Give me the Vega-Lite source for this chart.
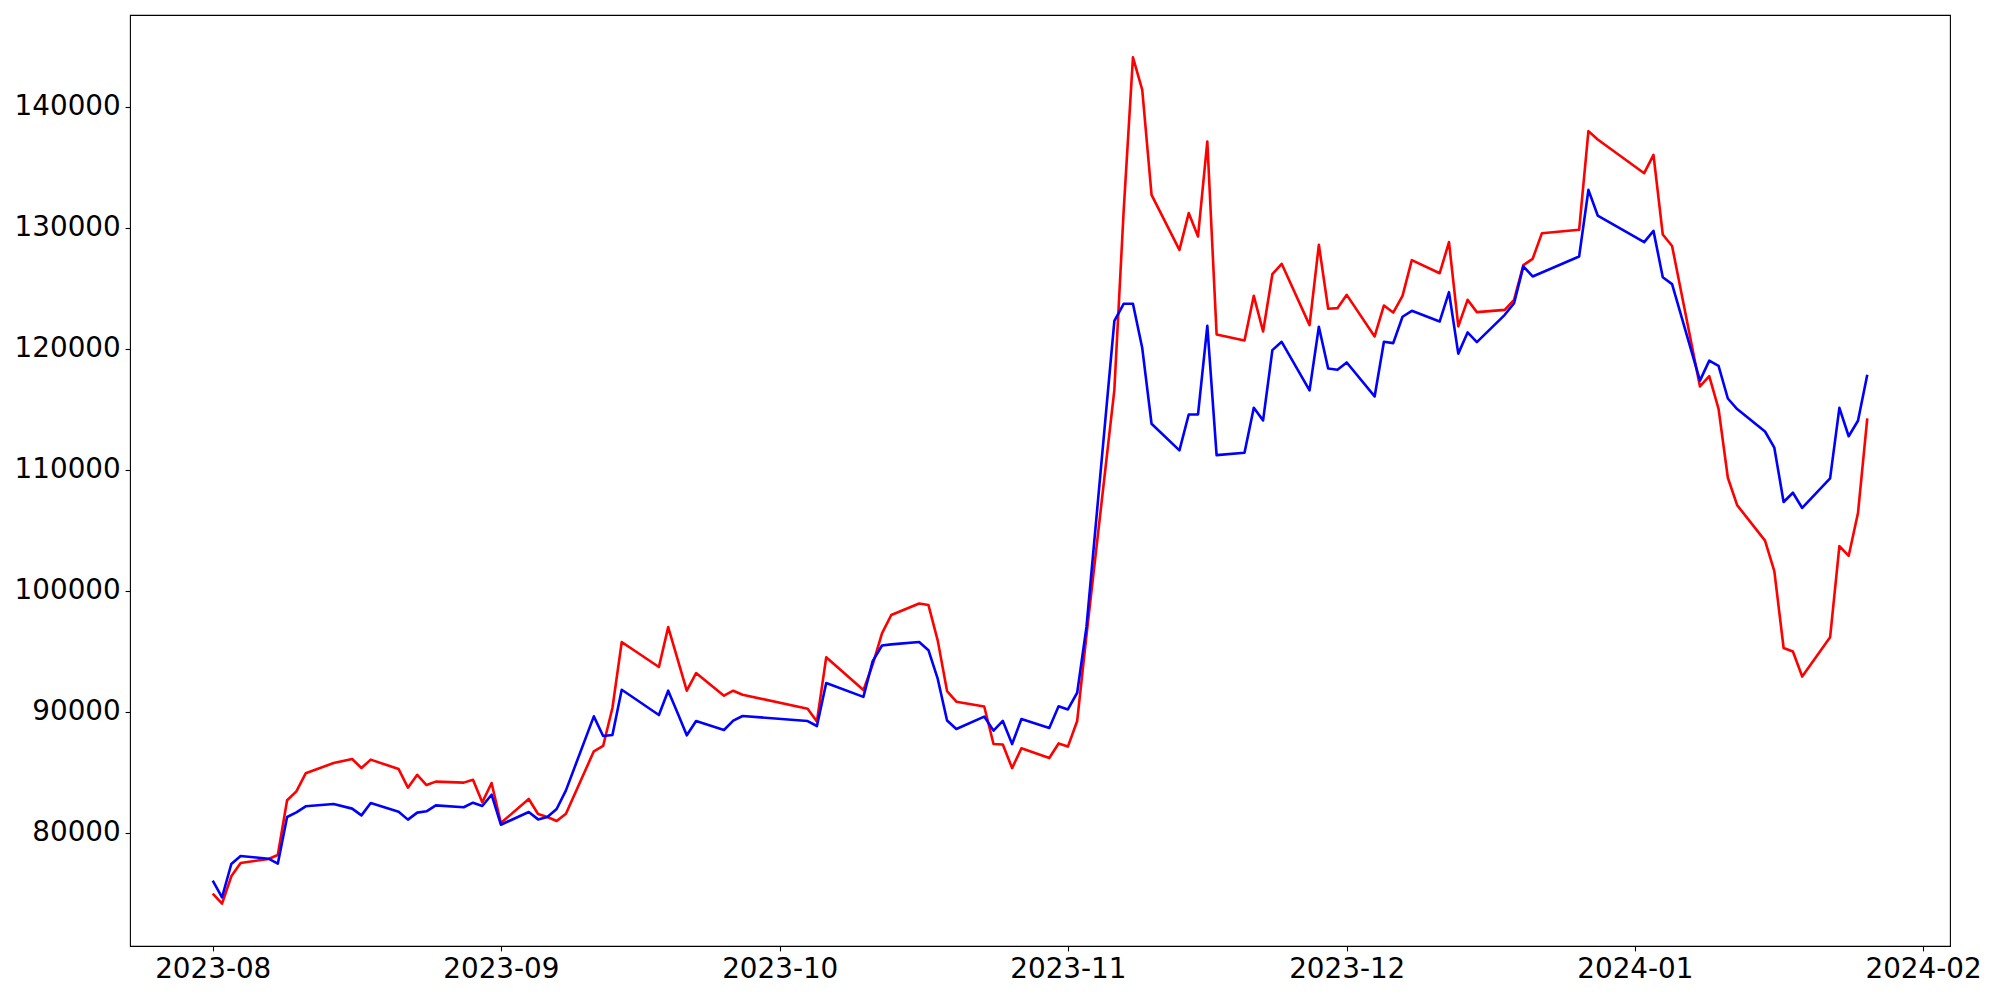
{
  "$schema": "https://vega.github.io/schema/vega-lite/v6.json",
  "width": 1820,
  "height": 931,
  "autosize": "none",
  "padding": {"left": 130, "top": 15, "right": 50, "bottom": 54},
  "background": "white",
  "config": {
    "view": {"stroke": "black", "strokeWidth": 1.1},
    "axis": {
      "grid": false,
      "domain": false,
      "tickColor": "black",
      "tickSize": 4.9,
      "tickWidth": 1.1,
      "labelFont": "DejaVu Sans",
      "labelFontSize": 27.8,
      "labelColor": "black",
      "labelPadding": 4.9
    }
  },
  "data": {
    "values": [
      {"date": "2023-08-01", "red": 74950, "blue": 76020},
      {"date": "2023-08-02", "red": 74120, "blue": 74650},
      {"date": "2023-08-03", "red": 76380, "blue": 77400},
      {"date": "2023-08-04", "red": 77490, "blue": 78060},
      {"date": "2023-08-07", "red": 77820, "blue": 77840},
      {"date": "2023-08-08", "red": 78150, "blue": 77430},
      {"date": "2023-08-09", "red": 82670, "blue": 81290},
      {"date": "2023-08-10", "red": 83410, "blue": 81670},
      {"date": "2023-08-11", "red": 84900, "blue": 82170},
      {"date": "2023-08-14", "red": 85750, "blue": 82360},
      {"date": "2023-08-16", "red": 86080, "blue": 81980},
      {"date": "2023-08-17", "red": 85340, "blue": 81420},
      {"date": "2023-08-18", "red": 86030, "blue": 82440},
      {"date": "2023-08-21", "red": 85250, "blue": 81730},
      {"date": "2023-08-22", "red": 83710, "blue": 81070},
      {"date": "2023-08-23", "red": 84780, "blue": 81650},
      {"date": "2023-08-24", "red": 83930, "blue": 81760},
      {"date": "2023-08-25", "red": 84210, "blue": 82250},
      {"date": "2023-08-28", "red": 84130, "blue": 82090},
      {"date": "2023-08-29", "red": 84370, "blue": 82470},
      {"date": "2023-08-30", "red": 82500, "blue": 82200},
      {"date": "2023-08-31", "red": 84100, "blue": 83130},
      {"date": "2023-09-01", "red": 80790, "blue": 80650},
      {"date": "2023-09-04", "red": 82780, "blue": 81700},
      {"date": "2023-09-05", "red": 81540, "blue": 81090},
      {"date": "2023-09-06", "red": 81290, "blue": 81290},
      {"date": "2023-09-07", "red": 80960, "blue": 81950},
      {"date": "2023-09-08", "red": 81560, "blue": 83490},
      {"date": "2023-09-11", "red": 86720, "blue": 89610},
      {"date": "2023-09-12", "red": 87160, "blue": 87980},
      {"date": "2023-09-13", "red": 90300, "blue": 88070},
      {"date": "2023-09-14", "red": 95750, "blue": 91810},
      {"date": "2023-09-15", "red": 95240, "blue": 91290},
      {"date": "2023-09-18", "red": 93690, "blue": 89720},
      {"date": "2023-09-19", "red": 96990, "blue": 91730},
      {"date": "2023-09-20", "red": 94370, "blue": 89910},
      {"date": "2023-09-21", "red": 91730, "blue": 88040},
      {"date": "2023-09-22", "red": 93190, "blue": 89220},
      {"date": "2023-09-25", "red": 91320, "blue": 88480},
      {"date": "2023-09-26", "red": 91730, "blue": 89250},
      {"date": "2023-09-27", "red": 91400, "blue": 89640},
      {"date": "2023-10-04", "red": 90240, "blue": 89220},
      {"date": "2023-10-05", "red": 89190, "blue": 88810},
      {"date": "2023-10-06", "red": 94490, "blue": 92360},
      {"date": "2023-10-10", "red": 91780, "blue": 91220},
      {"date": "2023-10-11", "red": 93890, "blue": 94170},
      {"date": "2023-10-12", "red": 96470, "blue": 95470},
      {"date": "2023-10-13", "red": 97990, "blue": 95560},
      {"date": "2023-10-16", "red": 98940, "blue": 95760},
      {"date": "2023-10-17", "red": 98810, "blue": 95080},
      {"date": "2023-10-18", "red": 95870, "blue": 92700},
      {"date": "2023-10-19", "red": 91700, "blue": 89270},
      {"date": "2023-10-20", "red": 90820, "blue": 88560},
      {"date": "2023-10-23", "red": 90420, "blue": 89590},
      {"date": "2023-10-24", "red": 87320, "blue": 88430},
      {"date": "2023-10-25", "red": 87280, "blue": 89230},
      {"date": "2023-10-26", "red": 85330, "blue": 87320},
      {"date": "2023-10-27", "red": 86970, "blue": 89390},
      {"date": "2023-10-30", "red": 86160, "blue": 88650},
      {"date": "2023-10-31", "red": 87370, "blue": 90440},
      {"date": "2023-11-01", "red": 87110, "blue": 90180},
      {"date": "2023-11-02", "red": 89230, "blue": 91560},
      {"date": "2023-11-03", "red": 96300, "blue": 97000},
      {"date": "2023-11-06", "red": 116610, "blue": 122310},
      {"date": "2023-11-07", "red": 131400, "blue": 123720},
      {"date": "2023-11-08", "red": 144100, "blue": 123720},
      {"date": "2023-11-09", "red": 141400, "blue": 120060},
      {"date": "2023-11-10", "red": 132730, "blue": 113800},
      {"date": "2023-11-13", "red": 128180, "blue": 111600},
      {"date": "2023-11-14", "red": 131220, "blue": 114570},
      {"date": "2023-11-15", "red": 129290, "blue": 114570},
      {"date": "2023-11-16", "red": 137140, "blue": 121900},
      {"date": "2023-11-17", "red": 121190, "blue": 111210},
      {"date": "2023-11-20", "red": 120690, "blue": 111400},
      {"date": "2023-11-21", "red": 124380, "blue": 115120},
      {"date": "2023-11-22", "red": 121430, "blue": 114080},
      {"date": "2023-11-23", "red": 126170, "blue": 119890},
      {"date": "2023-11-24", "red": 127030, "blue": 120580},
      {"date": "2023-11-27", "red": 121960, "blue": 116560},
      {"date": "2023-11-28", "red": 128600, "blue": 121820},
      {"date": "2023-11-29", "red": 123310, "blue": 118370},
      {"date": "2023-11-30", "red": 123360, "blue": 118260},
      {"date": "2023-12-01", "red": 124460, "blue": 118870},
      {"date": "2023-12-04", "red": 121020, "blue": 116060},
      {"date": "2023-12-05", "red": 123580, "blue": 120580},
      {"date": "2023-12-06", "red": 123000, "blue": 120470},
      {"date": "2023-12-07", "red": 124380, "blue": 122650},
      {"date": "2023-12-08", "red": 127330, "blue": 123140},
      {"date": "2023-12-11", "red": 126250, "blue": 122260},
      {"date": "2023-12-12", "red": 128820, "blue": 124680},
      {"date": "2023-12-13", "red": 121850, "blue": 119600},
      {"date": "2023-12-14", "red": 124050, "blue": 121350},
      {"date": "2023-12-15", "red": 123030, "blue": 120550},
      {"date": "2023-12-18", "red": 123220, "blue": 122810},
      {"date": "2023-12-19", "red": 124050, "blue": 123770},
      {"date": "2023-12-20", "red": 126920, "blue": 126810},
      {"date": "2023-12-21", "red": 127440, "blue": 125980},
      {"date": "2023-12-22", "red": 129560, "blue": 126310},
      {"date": "2023-12-26", "red": 129840, "blue": 127630},
      {"date": "2023-12-27", "red": 138000, "blue": 133140},
      {"date": "2023-12-28", "red": 137300, "blue": 131020},
      {"date": "2024-01-02", "red": 134520, "blue": 128820},
      {"date": "2024-01-03", "red": 136040, "blue": 129750},
      {"date": "2024-01-04", "red": 129450, "blue": 125920},
      {"date": "2024-01-05", "red": 128500, "blue": 125350},
      {"date": "2024-01-08", "red": 116890, "blue": 117370},
      {"date": "2024-01-09", "red": 117740, "blue": 119020},
      {"date": "2024-01-10", "red": 115040, "blue": 118590},
      {"date": "2024-01-11", "red": 109340, "blue": 115890},
      {"date": "2024-01-12", "red": 107070, "blue": 115020},
      {"date": "2024-01-15", "red": 104140, "blue": 113160},
      {"date": "2024-01-16", "red": 101610, "blue": 111820},
      {"date": "2024-01-17", "red": 95260, "blue": 107330},
      {"date": "2024-01-18", "red": 94970, "blue": 108100},
      {"date": "2024-01-19", "red": 92900, "blue": 106840},
      {"date": "2024-01-22", "red": 96140, "blue": 109290},
      {"date": "2024-01-23", "red": 103680, "blue": 115120},
      {"date": "2024-01-24", "red": 102890, "blue": 112770},
      {"date": "2024-01-25", "red": 106420, "blue": 114050},
      {"date": "2024-01-26", "red": 114250, "blue": 117860}
    ]
  },
  "encoding": {
    "x": {
      "field": "date",
      "type": "temporal",
      "scale": {
        "type": "utc",
        "nice": false,
        "domain": [
          {"year": 2023, "month": 7, "date": 23, "hours": 2, "minutes": 24, "utc": true},
          {"year": 2024, "month": 2, "date": 3, "hours": 21, "minutes": 36, "utc": true}
        ]
      },
      "axis": {
        "title": null,
        "format": "%Y-%m",
        "labelOverlap": false,
        "labelFlush": false,
        "values": [
          {"year": 2023, "month": 8, "date": 1, "utc": true},
          {"year": 2023, "month": 9, "date": 1, "utc": true},
          {"year": 2023, "month": 10, "date": 1, "utc": true},
          {"year": 2023, "month": 11, "date": 1, "utc": true},
          {"year": 2023, "month": 12, "date": 1, "utc": true},
          {"year": 2024, "month": 1, "date": 1, "utc": true},
          {"year": 2024, "month": 2, "date": 1, "utc": true}
        ]
      }
    }
  },
  "layer": [
    {
      "mark": {"type": "line", "color": "#ff0000", "strokeWidth": 2.6, "strokeJoin": "round"},
      "encoding": {
        "y": {
          "field": "red",
          "type": "quantitative",
          "scale": {"domain": [70621, 147599], "nice": false, "zero": false},
          "axis": {"title": null, "format": "d", "labelOverlap": false, "values": [80000, 90000, 100000, 110000, 120000, 130000, 140000]}
        }
      }
    },
    {
      "mark": {"type": "line", "color": "#0000ff", "strokeWidth": 2.6, "strokeJoin": "round"},
      "encoding": {
        "y": {
          "field": "blue",
          "type": "quantitative",
          "scale": {"domain": [70621, 147599], "nice": false, "zero": false},
          "axis": {"title": null, "format": "d", "labelOverlap": false, "values": [80000, 90000, 100000, 110000, 120000, 130000, 140000]}
        }
      }
    }
  ]
}
